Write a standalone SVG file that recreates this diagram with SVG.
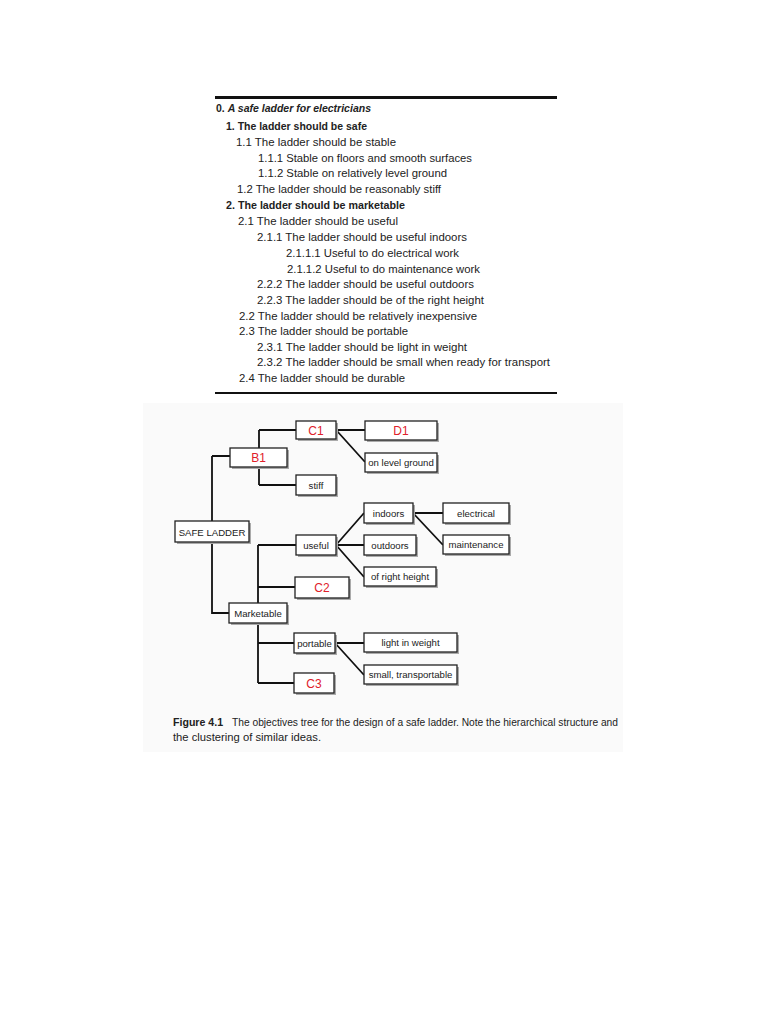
<svg xmlns="http://www.w3.org/2000/svg" width="768" height="1024" viewBox="0 0 768 1024">
<style>
.t{font-family:"Liberation Sans",Arial,sans-serif;font-size:11.2px;fill:#222}
.b{font-weight:bold;font-size:10.6px}
.n{font-family:"Liberation Sans",Arial,sans-serif;font-size:9.6px;fill:#222;text-anchor:middle}
.r{font-family:"Liberation Sans",Arial,sans-serif;font-size:12px;fill:#e0202a;text-anchor:middle}
.box{fill:#fff;stroke:#222;stroke-width:1.3}
.sh{fill:#aaa}
.c{fill:none;stroke:#111;stroke-width:1.8}
.cap{font-family:"Liberation Sans",Arial,sans-serif;font-size:10.6px;fill:#222}
</style>
<rect width="768" height="1024" fill="#fff"/>
<g id="outline">
<rect x="215" y="96" width="342" height="3" fill="#111"/>
<rect x="215" y="392" width="342" height="2" fill="#111"/>
<text class="t b" x="216" y="112" textLength="155" lengthAdjust="spacingAndGlyphs">0. <tspan font-style="italic">A safe ladder for electricians</tspan></text>
<text class="t b" x="226" y="130" textLength="141" lengthAdjust="spacingAndGlyphs">1. The ladder should be safe</text>
<text class="t" x="236" y="146" textLength="160" lengthAdjust="spacingAndGlyphs">1.1 The ladder should be stable</text>
<text class="t" x="258" y="162" textLength="214" lengthAdjust="spacingAndGlyphs">1.1.1 Stable on floors and smooth surfaces</text>
<text class="t" x="258" y="177" textLength="189" lengthAdjust="spacingAndGlyphs">1.1.2 Stable on relatively level ground</text>
<text class="t" x="237" y="193" textLength="204" lengthAdjust="spacingAndGlyphs">1.2 The ladder should be reasonably stiff</text>
<text class="t b" x="226" y="209" textLength="179" lengthAdjust="spacingAndGlyphs">2. The ladder should be marketable</text>
<text class="t" x="238" y="225" textLength="160" lengthAdjust="spacingAndGlyphs">2.1 The ladder should be useful</text>
<text class="t" x="257" y="241" textLength="210" lengthAdjust="spacingAndGlyphs">2.1.1 The ladder should be useful indoors</text>
<text class="t" x="286" y="257" textLength="173" lengthAdjust="spacingAndGlyphs">2.1.1.1 Useful to do electrical work</text>
<text class="t" x="287" y="273" textLength="193" lengthAdjust="spacingAndGlyphs">2.1.1.2 Useful to do maintenance work</text>
<text class="t" x="257" y="288" textLength="217" lengthAdjust="spacingAndGlyphs">2.2.2 The ladder should be useful outdoors</text>
<text class="t" x="257" y="304" textLength="227" lengthAdjust="spacingAndGlyphs">2.2.3 The ladder should be of the right height</text>
<text class="t" x="239" y="320" textLength="238" lengthAdjust="spacingAndGlyphs">2.2 The ladder should be relatively inexpensive</text>
<text class="t" x="239" y="335" textLength="169" lengthAdjust="spacingAndGlyphs">2.3 The ladder should be portable</text>
<text class="t" x="257" y="351" textLength="210" lengthAdjust="spacingAndGlyphs">2.3.1 The ladder should be light in weight</text>
<text class="t" x="257" y="366" textLength="293" lengthAdjust="spacingAndGlyphs">2.3.2 The ladder should be small when ready for transport</text>
<text class="t" x="239" y="382" textLength="166" lengthAdjust="spacingAndGlyphs">2.4 The ladder should be durable</text>
</g>
<rect x="143" y="403" width="480" height="349" fill="#fafafa"/>
<g id="connectors">
<path class="c" d="M212,456 H230 M212,456 V613 H229"/>
<path class="c" d="M259,430 V485 M259,430 H296 M259,485 H296"/>
<path class="c" d="M336,430 H365 M337,431 L365,462"/>
<path class="c" d="M258,545 V683 M258,545 H296 M258,587 H295 M258,643 H294 M258,683 H294"/>
<path class="c" d="M336,545 L364,513 M336,545 H364 M336,545 L364,577"/>
<path class="c" d="M413,513 H443 M413,513 L443,545"/>
<path class="c" d="M335,643 H364 M335,643 L364,675"/>
</g>
<g id="safe"><rect class="sh" x="177" y="523" width="74" height="21"/><rect class="box" x="175" y="521" width="74" height="21"/><text class="n" x="212" y="535.5" font-size="10.2">SAFE LADDER</text></g>
<g id="b1"><rect class="sh" x="232" y="450" width="57" height="19"/><rect class="box" x="230" y="448" width="57" height="19"/><text class="r" x="258.5" y="462">B1</text></g>
<g id="c1"><rect class="sh" x="298" y="423" width="40" height="18"/><rect class="box" x="296" y="421" width="40" height="18"/><text class="r" x="316" y="434.5">C1</text></g>
<g id="d1"><rect class="sh" x="367" y="423" width="72" height="19"/><rect class="box" x="365" y="421" width="72" height="19"/><text class="r" x="401" y="435">D1</text></g>
<g id="level"><rect class="sh" x="367" y="455" width="72" height="19"/><rect class="box" x="365" y="453" width="72" height="19"/><text class="n" x="401" y="466">on level ground</text></g>
<g id="stiff"><rect class="sh" x="298" y="477" width="40" height="20"/><rect class="box" x="296" y="475" width="40" height="20"/><text class="n" x="316" y="488.5">stiff</text></g>
<g id="marketable"><rect class="sh" x="231" y="605" width="58" height="20"/><rect class="box" x="229" y="603" width="58" height="20"/><text class="n" x="258" y="616.5">Marketable</text></g>
<g id="useful"><rect class="sh" x="298" y="537" width="40" height="20"/><rect class="box" x="296" y="535" width="40" height="20"/><text class="n" x="316" y="548.5">useful</text></g>
<g id="indoors"><rect class="sh" x="366" y="505" width="49" height="20"/><rect class="box" x="364" y="503" width="49" height="20"/><text class="n" x="388.5" y="516.5">indoors</text></g>
<g id="outdoors"><rect class="sh" x="366" y="537" width="52" height="20"/><rect class="box" x="364" y="535" width="52" height="20"/><text class="n" x="390" y="548.5">outdoors</text></g>
<g id="height"><rect class="sh" x="366" y="569" width="72" height="19"/><rect class="box" x="364" y="567" width="72" height="19"/><text class="n" x="400" y="580">of right height</text></g>
<g id="electrical"><rect class="sh" x="445" y="505" width="66" height="20"/><rect class="box" x="443" y="503" width="66" height="20"/><text class="n" x="476" y="516.5">electrical</text></g>
<g id="maintenance"><rect class="sh" x="445" y="537" width="66" height="19"/><rect class="box" x="443" y="535" width="66" height="19"/><text class="n" x="476" y="548">maintenance</text></g>
<g id="c2"><rect class="sh" x="297" y="579" width="54" height="21"/><rect class="box" x="295" y="577" width="54" height="21"/><text class="r" x="322" y="591.5">C2</text></g>
<g id="portable"><rect class="sh" x="296" y="635" width="41" height="20"/><rect class="box" x="294" y="633" width="41" height="20"/><text class="n" x="314.5" y="646.5">portable</text></g>
<g id="c3"><rect class="sh" x="296" y="675" width="40" height="20"/><rect class="box" x="294" y="673" width="40" height="20"/><text class="r" x="314" y="687.5">C3</text></g>
<g id="light"><rect class="sh" x="366" y="635" width="93" height="19"/><rect class="box" x="364" y="633" width="93" height="19"/><text class="n" x="410.5" y="646">light in weight</text></g>
<g id="small"><rect class="sh" x="366" y="667" width="93" height="19"/><rect class="box" x="364" y="665" width="93" height="19"/><text class="n" x="410.5" y="678">small, transportable</text></g>
<g id="caption">
<text class="cap" x="173" y="726" font-weight="bold">Figure 4.1</text>
<text class="cap" x="232" y="726" textLength="386" lengthAdjust="spacingAndGlyphs">The objectives tree for the design of a safe ladder. Note the hierarchical structure and</text>
<text class="cap" x="173" y="741" textLength="148" lengthAdjust="spacingAndGlyphs">the clustering of similar ideas.</text>
</g>
</svg>
